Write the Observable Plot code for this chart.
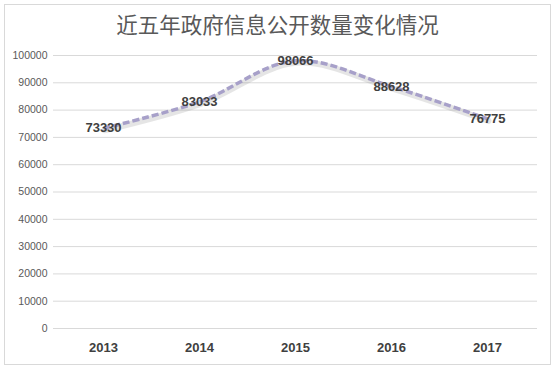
<!DOCTYPE html>
<html>
<head>
<meta charset="utf-8">
<script src="https://cdn.jsdelivr.net/npm/d3@7"></script>
<script src="https://cdn.jsdelivr.net/npm/@observablehq/plot@0.6"></script>
<style>
  body { margin: 0; background: #fff; }
  #frame { position: absolute; left: 4px; top: 4px; width: 545px; height: 359px; border: 1px solid #d9d9d9; }
  #title { position: absolute; left: 0; top: 9px; width: 555px; text-align: center; font-family: "Noto Sans CJK SC", sans-serif; font-size: 21.5px; color: #595959; line-height: 30px; }
  #chart { position: absolute; left: 0; top: 40px; }
</style>
</head>
<body>
<div id="frame"></div>
<div id="title">近五年政府信息公开数量变化情况</div>
<div id="chart"></div>
<script>
const years = ["2013", "2014", "2015", "2016", "2017"];
const counts = [73330, 83033, 98066, 88628, 76775];
const yTicks = [0, 10000, 20000, 30000, 40000, 50000, 60000, 70000, 80000, 90000, 100000];

const data = years.map((y, i) => ({year: y, value: counts[i]}));

const chart = Plot.plot({
  width: 555,
  height: 325,
  marginTop: 15,
  marginBottom: 37,
  marginLeft: 53,
  marginRight: 18,
  style: {fontFamily: "'Liberation Sans', Arial, sans-serif", background: "transparent"},
  x: {type: "point", domain: years, padding: 0.5, label: null},
  y: {domain: [0, 100000], label: null},
  marks: [
    Plot.gridY(yTicks, {stroke: "#d9d9d9", strokeOpacity: 1, strokeWidth: 1}),
    Plot.axisY(yTicks, {tickSize: 0, tickPadding: 6, tickFormat: d => String(d), fontSize: 10.5, fill: "#595959", label: null}),
    Plot.axisX(years, {tickSize: 0, tickPadding: 14, fontSize: 13, fontWeight: "bold", fill: "#404040", label: null}),
    Plot.line(data, {x: "year", y: "value", curve: "catmull-rom", stroke: "#8a8a8a", strokeOpacity: 0.22, strokeWidth: 6, dy: 2, dx: 1}),
    Plot.line(data, {x: "year", y: "value", curve: "catmull-rom", stroke: "#a7a0c9", strokeWidth: 3.5, strokeDasharray: "7,3", strokeLinecap: "butt"}),
    Plot.text(data, {x: "year", y: "value", text: d => String(d.value), fontSize: 13, fontWeight: "bold", fill: "#404040"})
  ]
});
document.getElementById("chart").appendChild(chart);
</script>
</body>
</html>
